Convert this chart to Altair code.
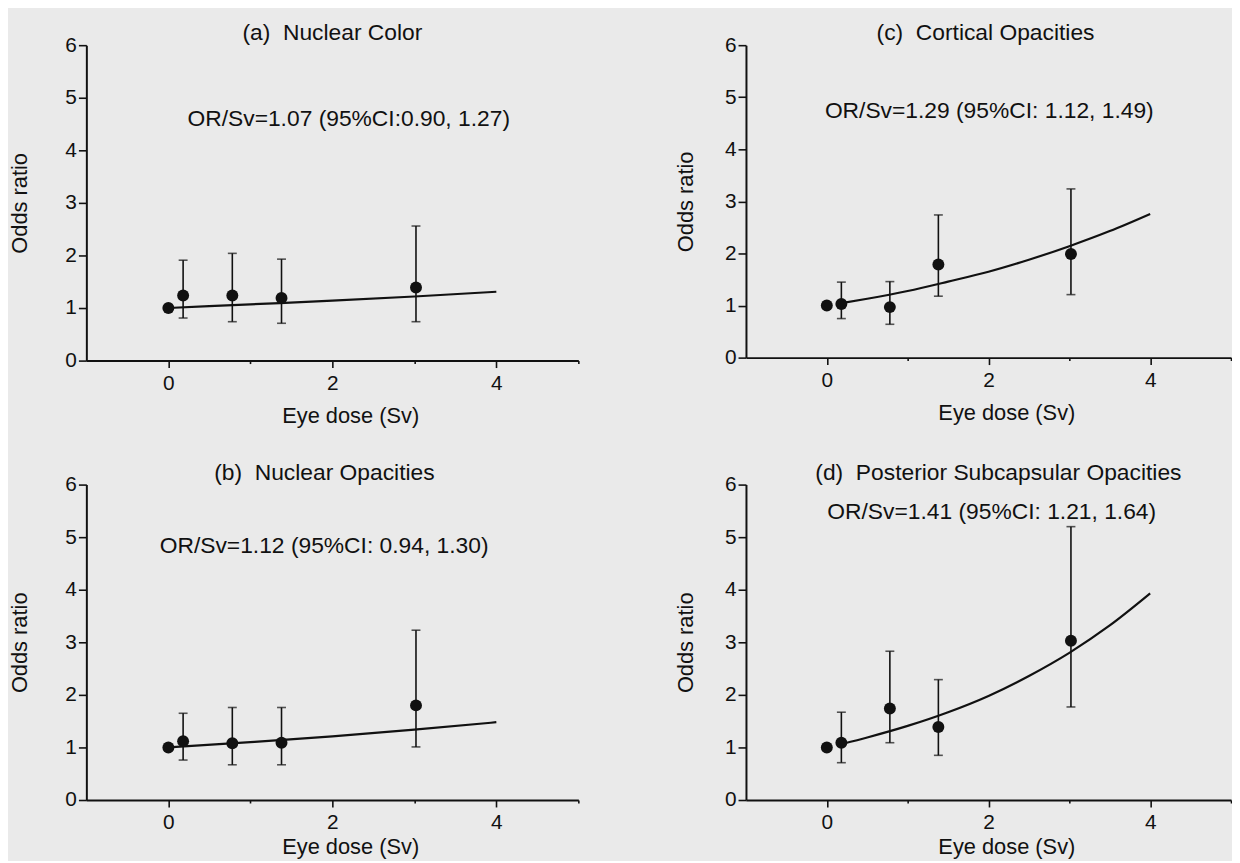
import altair as alt
import pandas as pd

FONT = "Liberation Sans"
INK = "#111111"

# dose levels (Sv) of the grouped points, shared by all panels
DOSE = [0, 0.18, 0.78, 1.38, 3.02]

# (a) Nuclear Color
A_OR = [1.00, 1.24, 1.24, 1.19, 1.39]
A_LO = [None, 0.81, 0.74, 0.71, 0.74]
A_HI = [None, 1.91, 2.04, 1.93, 2.56]
A_FIT_X = [0, 1, 2, 3, 4]
A_FIT_Y = [1.00, 1.07, 1.14, 1.22, 1.31]

# (b) Nuclear Opacities
B_OR = [1.00, 1.12, 1.08, 1.09, 1.80]
B_LO = [None, 0.76, 0.67, 0.67, 1.01]
B_HI = [None, 1.65, 1.76, 1.76, 3.23]
B_FIT_X = [0, 1, 2, 3, 4]
B_FIT_Y = [1.00, 1.10, 1.21, 1.34, 1.48]

# (c) Cortical Opacities
C_OR = [1.00, 1.03, 0.97, 1.79, 1.99]
C_LO = [None, 0.75, 0.64, 1.18, 1.21]
C_HI = [None, 1.45, 1.46, 2.74, 3.24]
C_FIT_X = [0.2, 0.5, 1.0, 1.5, 2.0, 2.5, 3.0, 3.5, 4.0]
C_FIT_Y = [1.05, 1.13, 1.28, 1.46, 1.65, 1.88, 2.14, 2.43, 2.76]

# (d) Posterior Subcapsular Opacities
D_OR = [1.00, 1.09, 1.74, 1.39, 3.03]
D_LO = [None, 0.71, 1.09, 0.85, 1.77]
D_HI = [None, 1.67, 2.83, 2.29, 5.20]
D_FIT_X = [0.2, 0.5, 1.0, 1.5, 2.0, 2.5, 3.0, 3.5, 4.0]
D_FIT_Y = [1.07, 1.19, 1.41, 1.67, 1.98, 2.36, 2.80, 3.32, 3.93]

TITLES = ["(a)\u00a0 Nuclear Color", "(b)\u00a0 Nuclear Opacities",
          "(c)\u00a0 Cortical Opacities", "(d)\u00a0 Posterior Subcapsular Opacities"]
NOTES = ["OR/Sv=1.07 (95%CI:0.90, 1.27)", "OR/Sv=1.12 (95%CI: 0.94, 1.30)",
         "OR/Sv=1.29 (95%CI: 1.12, 1.49)", "OR/Sv=1.41 (95%CI: 1.21, 1.64)"]
NOTE_POS = [(2.2, 4.6), (1.9, 4.83), (2.01, 4.74), (2.04, 5.47)]

X_TICKS = [0, 1, 2, 3, 4, 5]
Y_TICKS = [0, 1, 2, 3, 4, 5, 6]


def panel(i, orv, lo, hi, fx, fy, width, height, ytitle_pad, title_dx,
          xtitle_pad):
    pts = pd.DataFrame({"dose": DOSE, "or": orv, "lo": lo, "hi": hi})
    fit = pd.DataFrame({"dose": fx, "or": fy})
    xs = alt.Scale(domain=[-1, 5], nice=False, zero=False)
    ys = alt.Scale(domain=[0, 6], nice=False)
    xaxis = alt.Axis(values=X_TICKS, title="Eye dose (Sv)", format="d",
                     labelExpr="datum.value % 2 == 0 ? datum.label : ''",
                     tickSize={"condition": {"test": "datum.value % 2 != 0",
                                             "value": 3},
                               "value": 7},
                     labelPadding=5, titlePadding=xtitle_pad,
                     titleX=width / 2 + 18, grid=False)
    yaxis = alt.Axis(values=Y_TICKS, title="Odds ratio", tickSize=8,
                     labelPadding=2, titlePadding=ytitle_pad, grid=False)
    x = alt.X("dose:Q", scale=xs, axis=xaxis)
    y = alt.Y("or:Q", scale=ys, axis=yaxis)

    line = alt.Chart(fit).mark_line(color=INK, strokeWidth=2.2,
                                    interpolate="monotone").encode(x=x, y=y)
    bars = pts.dropna()
    rules = alt.Chart(bars).mark_rule(color=INK, strokeWidth=1.6).encode(
        x="dose:Q", y="lo:Q", y2="hi:Q")
    cap_hi = alt.Chart(bars).mark_tick(color=INK, size=9, thickness=1.6,
                                       orient="horizontal").encode(
        x="dose:Q", y="hi:Q")
    cap_lo = alt.Chart(bars).mark_tick(color=INK, size=9, thickness=1.6,
                                       orient="horizontal").encode(
        x="dose:Q", y="lo:Q")
    dots = alt.Chart(pts).mark_circle(color=INK, size=145, opacity=1).encode(
        x="dose:Q", y="or:Q")
    nx, ny = NOTE_POS[i]
    note = alt.Chart(pd.DataFrame({"t": [NOTES[i]]})).mark_text(
        font=FONT, fontSize=23, color=INK).encode(
        x=alt.datum(nx), y=alt.datum(ny), text="t:N")
    return alt.layer(line, rules, cap_hi, cap_lo, dots, note).properties(
        width=width, height=height,
        title=alt.TitleParams(TITLES[i], font=FONT, fontSize=23,
                              fontWeight="normal", color=INK, offset=-11,
                              dx=title_dx))


pa = panel(0, A_OR, A_LO, A_HI, A_FIT_X, A_FIT_Y, 496, 318, 34, 0, 12)
pb = panel(1, B_OR, B_LO, B_HI, B_FIT_X, B_FIT_Y, 496, 318, 34, -8, 4)
pc = panel(2, C_OR, C_LO, C_HI, C_FIT_X, C_FIT_Y, 489, 315, 27, -3, 12)
pd_ = panel(3, D_OR, D_LO, D_HI, D_FIT_X, D_FIT_Y, 489, 318, 27, 10, 4)

chart = alt.vconcat(
    alt.hconcat(pa, pc, spacing=96),
    alt.hconcat(pb, pd_, spacing=96),
    spacing=36,
).properties(
    background="#eaeaea",
    padding={"left": 0, "top": 11, "right": 0, "bottom": 0},
).configure_view(stroke=None).configure_axis(
    domainColor=INK, domainWidth=2, tickColor=INK, tickWidth=1.6,
    labelFont=FONT, labelFontSize=21, labelColor=INK,
    titleFont=FONT, titleFontSize=22, titleColor=INK, titleFontWeight="normal",
)

chart.save("out.html", embed_options={"renderer": "svg", "actions": False})
